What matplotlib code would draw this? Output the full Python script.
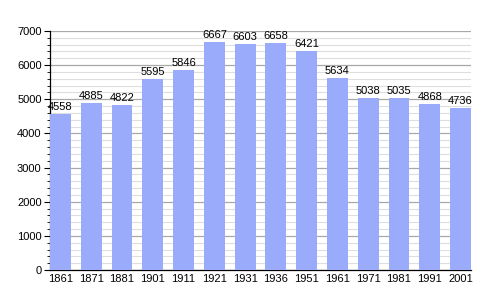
import numpy as np
import matplotlib.pyplot as plt
from matplotlib.ticker import MultipleLocator

years = ['1861', '1871', '1881', '1901', '1911', '1921', '1931',
         '1936', '1951', '1961', '1971', '1981', '1991', '2001']
population = [4558, 4885, 4822, 5595, 5846, 6667, 6603,
              6658, 6421, 5634, 5038, 5035, 4868, 4736]

plt.rcParams['font.family'] = ['Liberation Sans', 'DejaVu Sans']

fig = plt.figure(figsize=(5, 3), dpi=100)
ax = fig.add_axes([0.1, 0.1, 0.842, 0.797])

x = np.arange(len(years))
w = 0.68
bars = ax.bar(x, population, w, color='#9aabfb', zorder=3)

# value labels on top of each bar
for xi, v in zip(x, population):
    ax.text(xi, v + 60, str(v), ha='center', va='bottom', fontsize=8, zorder=4)

ax.set_xlim(-w / 2, len(years) - 1 + w / 2)
ax.set_ylim(0, 7000)
ax.yaxis.set_major_locator(MultipleLocator(1000))
ax.yaxis.set_minor_locator(MultipleLocator(200))
ax.grid(which='major', axis='y', color='#a8a8a8', linewidth=0.9, zorder=0)
ax.grid(which='minor', axis='y', color='#dedede', linewidth=0.8, zorder=0)

ax.set_xticks(x)
ax.set_xticklabels(years)
ax.tick_params(axis='x', length=0, labelsize=8, pad=3)
ax.tick_params(axis='y', which='major', length=4, width=0.8, labelsize=8, pad=2)
ax.tick_params(axis='y', which='minor', length=2, width=0.6)

for s in ['top', 'right']:
    ax.spines[s].set_visible(False)
ax.spines['left'].set_linewidth(0.9)
ax.spines['bottom'].set_linewidth(0.9)

fig.savefig('out.png', dpi=100)
